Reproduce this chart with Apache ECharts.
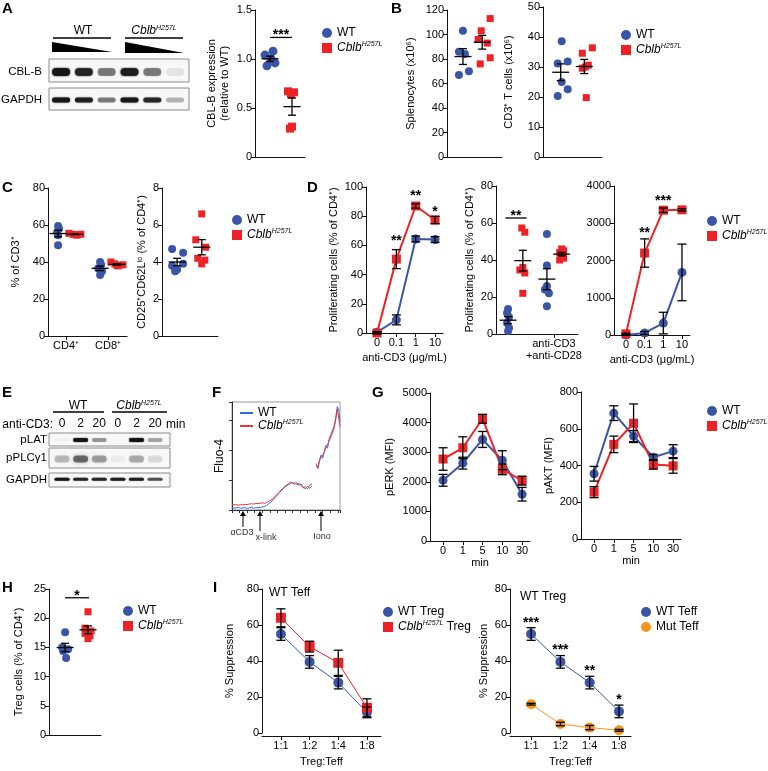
<!DOCTYPE html>
<html lang="en">
<head>
<meta charset="UTF-8">
<title>Cblb H257L</title>
<script src="https://cdn.jsdelivr.net/npm/echarts@6/dist/echarts.min.js"></script>
<style>html,body{margin:0;padding:0;background:#fff}#main{width:768px;height:771px}</style>
</head>
<body>
<div id="main"></div>
<script>
// ---- data ----
// A
var aWT = [1.08, 1.04, 1.0, 0.96, 0.93];
var aMut = [0.67, 0.66, 0.64, 0.31, 0.29];
var aBlotCBLB = [0.95, 0.8, 0.45, 0.85, 0.45, 0.08];
var aBlotGAPDH = [0.95, 0.85, 0.45, 0.9, 0.8, 0.25];
// B
var bSplenoWT = [103, 86, 84, 70, 67];
var bSplenoMut = [113, 103, 96, 93, 81, 76];
var bCD3WT = [38.6, 31.2, 31.8, 25, 22.6, 20.3];
var bCD3Mut = [34.6, 36.4, 30.6, 29.6, 30, 19.8];
// C
var cCats = ['CD4⁺', 'CD8⁺'];
var cCD4WT = [59.5, 58, 56, 54.5, 49];
var cCD4Mut = [55.5, 55, 54.5, 55, 54.8];
var cCD8WT = [40, 38.5, 36.5, 35, 33];
var cCD8Mut = [40, 39, 38, 38.5, 38];
var cTregWT = [4.7, 4.5, 3.9, 3.8, 3.6, 3.5];
var cTregMut = [6.6, 5.2, 4.8, 4.2, 4.1, 3.9];
// D
var dDose = ['0', '0.1', '1', '10'];
var dPropWT = [0.5, 9, 64.4, 64];
var dPropWTErr = [0.5, 3.4, 2, 2];
var dPropMut = [0, 50.6, 87, 77.4];
var dPropMutErr = [0.8, 6.5, 1.5, 2.5];
var dStim = ['anti-CD3', 'anti-CD3\n+anti-CD28'];
var dCD3WT = [13.5, 11.4, 9.2, 5.9, 3.2, 1.6];
var dCD3Mut = [57.3, 55, 36, 34.6, 33, 22];
var dCD28WT = [54, 37, 26, 24, 15, 22];
var dCD28Mut = [46, 45, 44, 43, 41, 40];
var dCountWT = [0, 54, 320, 1680];
var dCountWTErr = [10, 40, 290, 760];
var dCountMut = [30, 2200, 3350, 3360];
var dCountMutErr = [20, 380, 60, 30];
// E
var eLanes = ['0', '2', '20', '0', '2', '20'];
var ePLAT = [0.03, 0.95, 0.35, 0.0, 1.0, 0.3];
var ePLCG1 = [0.25, 0.55, 0.35, 0.05, 0.3, 0.12];
var eGAPDH = [0.9, 0.8, 0.8, 0.85, 0.85, 0.6];
// F (Fluo-4 trace, arbitrary units)
var fTime = [0,2,4,6,8,10,12,14,16,18,20,22,24,26,28,30,32,34,36,38,40,42,44,46,48,50,52,54,56,58,60,62,64,66,68,70,72,74,76,78,79.5,81,82.5,84,85.5,87,88.5,90,91.5,93,94.5,96,97.5,99,100];
var fWT = [0.8,0.6,0.7,0.9,0.6,0.7,0.8,0.5,0.7,0.9,0.6,0.8,0.7,0.9,1.0,1.2,1.5,2.0,2.6,3.4,4.2,5.0,5.8,6.6,7.3,8.0,8.4,8.9,9.2,8.6,9.1,8.2,8.7,7.6,7.0,7.9,7.2,8.0,null,15.5,14.2,16.8,18.3,17.2,19.8,21.5,20.6,23.8,25.2,24.6,27.9,30.8,34.5,33.1,29.4];
var fMut = [1.9,1.7,1.8,1.6,1.8,1.7,1.9,1.8,2.0,2.1,2.0,2.2,2.1,2.3,2.4,2.2,2.5,2.8,3.3,3.9,4.6,5.3,6.0,6.9,7.5,8.2,8.6,9.3,8.8,9.2,8.5,8.9,8.1,7.4,7.8,7.1,8.3,8.6,null,15.0,13.8,16.2,17.6,18.0,19.2,20.8,21.4,23.0,24.4,25.6,27.2,30.0,33.6,34.2,27.8];
// G
var gTimes = ['0', '1', '5', '10', '30'];
var gErkWT = [2050, 2630, 3430, 2730, 1580];
var gErkWTErr = [200, 200, 270, 320, 230];
var gErkMut = [2770, 3150, 4130, 2420, 2040];
var gErkMutErr = [380, 370, 150, 180, 150];
var gAktWT = [355, 685, 560, 445, 478];
var gAktWTErr = [40, 40, 30, 15, 35];
var gAktMut = [255, 515, 630, 405, 398];
var gAktMutErr = [30, 45, 105, 25, 40];
// H
var hWT = [17.6, 15.0, 14.7, 14.4, 13.2];
var hMut = [21.1, 18.3, 17.8, 17.4, 17.0, 16.5];
// I
var iRatios = ['1:1', '1:2', '1:4', '1:8'];
var iWTTreg = [55, 39.5, 28, 11.5];
var iWTTregErr = [3.5, 3.5, 3.5, 3];
var iMutTreg = [64, 48, 39, 14];
var iMutTregErr = [5, 3, 7, 5];
var iWTTeff = [55, 39.5, 28, 12];
var iWTTeffErr = [3.5, 3.5, 3.5, 3.5];
var iMutTeff = [16, 5, 3, 1.5];
var iMutTeffErr = [0.5, 1, 1.2, 0.5];

// ---- styles ----
var FONT = 'Liberation Sans, Arial, sans-serif';
var BLUE = '#3b55a6', RED = '#ec2227', ORANGE = '#f7941d';
var F_BLUE = '#2f6fdc', F_RED = '#ef3434';
var RICH = {
	i: {fontStyle: 'italic', fontSize: 12, fontFamily: FONT, color: '#000'},
	s: {fontStyle: 'italic', fontSize: 7, fontFamily: FONT, color: '#000', verticalAlign: 'top'},
	n: {fontSize: 12, fontFamily: FONT, color: '#000'}
};
var MUT = '{i|Cblb}{s|H257L}';
var LEG = {'WT': 'WT', 'Mut': MUT, 'WT trace': 'WT', 'Mut trace': MUT,
	'WT Treg': 'WT Treg', 'Mut Treg': MUT + '{n| Treg}', 'WT Teff': 'WT Teff', 'Mut Teff': 'Mut Teff'};

var grids = [], xAxes = [], yAxes = [], series = [], legends = [], graphics = [];

function stat(a){
	var n = a.length, m = 0, ss = 0;
	a.forEach(function(v){ m += v; });
	m = m / n;
	a.forEach(function(v){ ss += (v - m) * (v - m); });
	return [m, Math.sqrt(ss / (n - 1)) / Math.sqrt(n)];
}

// plain plot area: value axes, optional custom category ticks on x
function panel(o){
	var i = grids.length;
	var lab = {fontSize: 11, color: '#000', fontFamily: FONT};
	grids.push({left: o.l, top: o.t, width: o.w, height: o.h, show: false});
	xAxes.push({
		gridIndex: i, type: 'value', min: o.x0, max: o.x1, offset: o.xOff || 0,
		axisLine: {show: true, onZero: false, lineStyle: {color: '#111', width: 1}},
		axisTick: {show: !!o.xt, customValues: o.xt, length: 4, lineStyle: {color: '#111'}},
		axisLabel: {show: !!o.xt, customValues: o.xt, margin: 4, fontSize: 11, color: '#000', fontFamily: FONT, lineHeight: 12,
			formatter: function(v){ return o.xl ? o.xl[Math.round(v)] : ''; }},
		splitLine: {show: false},
		name: o.xName || '', nameLocation: 'middle', nameGap: o.xGap || 18, nameTextStyle: lab
	});
	yAxes.push({
		gridIndex: i, type: 'value', min: o.y0, max: o.y1, interval: o.yi,
		axisLine: {show: true, onZero: false, lineStyle: {color: '#111', width: 1}},
		axisTick: {show: true, length: 4, lineStyle: {color: '#111'}},
		axisLabel: {margin: 3, fontSize: 11, color: '#000', fontFamily: FONT,
			formatter: o.yf || function(v){ return String(v); }},
		splitLine: {show: false},
		name: o.yName || '', nameLocation: 'middle', nameRotate: 90, nameGap: o.yGap || 26,
		nameTextStyle: {fontSize: 11, color: '#000', fontFamily: FONT, lineHeight: 13}
	});
	return i;
}

function errBars(gi, pts, opt){
	series.push({type: 'custom', xAxisIndex: gi, yAxisIndex: gi, silent: true, z: 5, data: pts,
		renderItem: function(p, api){
			var x = api.value(0), m = api.value(1), s = api.value(2);
			var c = api.coord([x, m]), t = api.coord([x, m + s]), b = api.coord([x, m - s]);
			var st = {stroke: opt.color || '#000', lineWidth: opt.lw || 1.3};
			var ch = [
				{type: 'line', shape: {x1: c[0], y1: t[1], x2: c[0], y2: b[1]}, style: st},
				{type: 'line', shape: {x1: c[0] - opt.cap / 2, y1: t[1], x2: c[0] + opt.cap / 2, y2: t[1]}, style: st},
				{type: 'line', shape: {x1: c[0] - opt.cap / 2, y1: b[1], x2: c[0] + opt.cap / 2, y2: b[1]}, style: st}
			];
			if (opt.mean) ch.push({type: 'line', shape: {x1: c[0] - opt.mean / 2, y1: c[1], x2: c[0] + opt.mean / 2, y2: c[1]}, style: st});
			return {type: 'group', children: ch};
		}});
}

// dot plot group: points (with pixel jitter) + mean +/- SEM
function dotGroup(gi, vals, x, who, size, jit){
	var wt = who === 'WT', sz = size || 9;
	jit = jit || [0];
	series.push({type: 'scatter', name: who, xAxisIndex: gi, yAxisIndex: gi, z: 2,
		symbol: wt ? 'circle' : 'rect', symbolSize: wt ? sz : sz - 1,
		itemStyle: {color: wt ? BLUE : RED, opacity: 1},
		data: vals.map(function(v, k){ return {value: [x, v], symbolOffset: [jit[k % jit.length], 0]}; })});
	var st = stat(vals);
	errBars(gi, [[x, st[0], st[1]]], {cap: 8, mean: 17});
}

// connected means with SEM
function lineGroup(gi, name, ys, es, color, sym, lw, size){
	series.push({type: 'line', name: name, xAxisIndex: gi, yAxisIndex: gi, z: 2,
		data: ys.map(function(v, k){ return [k, v]; }),
		symbol: sym, symbolSize: size || 9, lineStyle: {color: color, width: lw}, itemStyle: {color: color}});
	errBars(gi, ys.map(function(v, k){ return [k, v, es[k]]; }), {cap: 9});
}

// significance stars (optionally with a bar)
function sig(gi, items){
	series.push({type: 'custom', xAxisIndex: gi, yAxisIndex: gi, silent: true, z: 6,
		data: items.map(function(it){ return [it[0], it[2]]; }),
		renderItem: function(p, api){
			var it = items[p.dataIndex];
			var a = api.coord([it[0], it[2]]), b = api.coord([it[1], it[2]]);
			var bar = it[0] !== it[1], ch = [];
			if (bar) ch.push({type: 'line', shape: {x1: a[0], y1: a[1], x2: b[0], y2: b[1]}, style: {stroke: '#000', lineWidth: 1.3}});
			ch.push({type: 'text', x: (a[0] + b[0]) / 2, y: a[1] + (bar ? -2 : 3),
				style: {text: it[3], align: 'center', verticalAlign: 'middle', fontSize: 14, fontWeight: 'bold', fontFamily: FONT, fill: '#000'}});
			return {type: 'group', children: ch};
		}});
}

// western blot strip
function blotPanel(l, t, w, h, x0, x1, labels){
	var i = grids.length;
	grids.push({left: l, top: t, width: w, height: h, show: true, backgroundColor: '#f8f8f8', borderColor: '#8a8a8a', borderWidth: 1});
	xAxes.push({gridIndex: i, type: 'value', min: x0, max: x1, position: 'top', show: !!labels,
		axisLine: {show: false}, axisTick: {show: false}, splitLine: {show: false},
		axisLabel: {show: !!labels, customValues: labels ? labels.map(function(_, k){ return k; }) : undefined,
			margin: 3, fontSize: 12, color: '#000', fontFamily: FONT,
			formatter: function(v){ return labels ? labels[Math.round(v)] : ''; }}});
	yAxes.push({gridIndex: i, type: 'value', min: 0, max: 1, show: false});
	return i;
}
function blot(gi, vals, yFrac, w, h, blur){
	series.push({type: 'custom', xAxisIndex: gi, yAxisIndex: gi, silent: true, z: 2,
		data: vals.map(function(v, k){ return [k, yFrac, v]; }),
		renderItem: function(p, api){
			var c = api.coord([api.value(0), api.value(1)]), a = api.value(2);
			var col = 'rgba(20,20,20,' + a + ')';
			return {type: 'rect', shape: {x: c[0] - w / 2, y: c[1] - h / 2, width: w, height: h, r: h / 2},
				style: {fill: col, shadowBlur: blur, shadowColor: col}};
		}});
}

function addLegend(left, top, names, icons, opt){
	opt = opt || {};
	legends.push({left: left, top: top, orient: 'vertical', padding: 0, itemGap: opt.gap || 1,
		itemWidth: opt.w || 10, itemHeight: opt.h || 10, selectedMode: false,
		data: names.map(function(n, k){ return {name: n, icon: icons[k]}; }),
		formatter: function(n){ return LEG[n]; },
		textStyle: {fontFamily: FONT, fontSize: 12, color: '#000', lineHeight: 14, rich: RICH}});
}

function txt(x, y, s, o){
	o = o || {};
	graphics.push({type: 'text', x: x, y: y, silent: true, style: {text: s, rich: RICH,
		font: (o.bold ? 'bold ' : '') + (o.size || 12) + 'px ' + FONT, fill: o.color || '#000',
		align: o.align || 'left', verticalAlign: o.va || 'middle'}});
}
function seg(x1, y1, x2, y2, w){
	graphics.push({type: 'line', silent: true, shape: {x1: x1, y1: y1, x2: x2, y2: y2}, style: {stroke: '#000', lineWidth: w || 1.5}});
}
function arrowUp(x, y1, y2){
	seg(x, y1, x, y2 + 3, 1);
	graphics.push({type: 'polygon', silent: true, shape: {points: [[x - 3, y2 + 5], [x + 3, y2 + 5], [x, y2]]}, style: {fill: '#000'}});
}

// ---- A ----
txt(2, 9, 'A', {bold: true, size: 15});
txt(83, 31, 'WT', {align: 'center'});
txt(154, 31, MUT, {align: 'center'});
seg(53, 38, 111, 38); seg(125, 38, 183, 38);
graphics.push({type: 'polygon', silent: true, shape: {points: [[52, 42], [52, 52], [112, 52]]}, style: {fill: '#000'}});
graphics.push({type: 'polygon', silent: true, shape: {points: [[125, 42], [125, 53], [184, 53]]}, style: {fill: '#000'}});
txt(42, 72, 'CBL-B', {align: 'right', size: 11.5});
txt(42, 100, 'GAPDH', {align: 'right', size: 11.5});
var gA1 = blotPanel(49, 59, 140, 23, -0.53, 5.61);
blot(gA1, aBlotCBLB, 0.43, 18, 8, 2);
var gA2 = blotPanel(49, 88, 140, 22, -0.53, 5.61);
blot(gA2, aBlotGAPDH, 0.45, 18, 5, 1.5);

var gA = panel({l: 255, t: 10, w: 50, h: 147, x0: 0, x1: 1, y0: 0, y1: 1.5, yi: 0.5,
	yf: function(v){ return v === 0 ? '0' : v.toFixed(1); },
	yName: 'CBL-B expression\n(relative to WT)', yGap: 24});
dotGroup(gA, aWT, 0.3, 'WT', 9, [3, -5, 1, 5, -3]);
dotGroup(gA, aMut, 0.74, 'Mut', 9, [-4, 2, -1, 0, -2]);
sig(gA, [[0.3, 0.74, 1.22, '***']]);
addLegend(322, 26, ['WT', 'Mut'], ['circle', 'rect']);

// ---- B ----
txt(391, 9, 'B', {bold: true, size: 15});
var gB1 = panel({l: 447, t: 10, w: 55, h: 147, x0: 0, x1: 1, y0: 0, y1: 120, yi: 20, yName: 'Splenocytes (x10⁶)', yGap: 30});
dotGroup(gB1, bSplenoWT, 0.29, 'WT', 8, [0, -4, 2, 6, -4]);
dotGroup(gB1, bSplenoMut, 0.64, 'Mut', 8, [8, -1, -4, 5, 8, -2]);
var gB2 = panel({l: 543, t: 7, w: 59, h: 150, x0: 0, x1: 1, y0: 0, y1: 50, yi: 10, yName: 'CD3⁺ T cells (x10⁶)', yGap: 28});
dotGroup(gB2, bCD3WT, 0.3, 'WT', 8, [1, -3, 7, 1, 7, -3]);
dotGroup(gB2, bCD3Mut, 0.7, 'Mut', 8, [-2, 8, 4, -2, 1, 2]);
addLegend(621, 28, ['WT', 'Mut'], ['circle', 'rect'], {gap: 0});

// ---- C ----
txt(2, 188, 'C', {bold: true, size: 15});
var gC1 = panel({l: 48, t: 188, w: 79, h: 148, x0: -0.43, x1: 1.45, xt: [0, 1], xl: cCats,
	y0: 0, y1: 80, yi: 20, yName: '% of CD3⁺', yGap: 26});
dotGroup(gC1, cCD4WT, -0.19, 'WT', 8, [0, 1, -1, 0, 0]);
dotGroup(gC1, cCD4Mut, 0.21, 'Mut', 8, [-6, -2, 2, 6, 0]);
dotGroup(gC1, cCD8WT, 0.81, 'WT', 8, [0, 1, -2, 2, 0]);
dotGroup(gC1, cCD8Mut, 1.21, 'Mut', 8, [-6, -2, 2, 6, 0]);
var gC2 = panel({l: 162, t: 188, w: 56, h: 148, x0: 0, x1: 1, y0: 0, y1: 8, yi: 2,
	yName: 'CD25⁺CD62Lˡᵒ (% of CD4⁺)', yGap: 14});
dotGroup(gC2, cTregWT, 0.27, 'WT', 8, [-5, 6, 6, -5, 0, -2]);
dotGroup(gC2, cTregMut, 0.71, 'Mut', 8, [0, -6, 4, -4, 3, 0]);
addLegend(232, 213, ['WT', 'Mut'], ['circle', 'rect'], {gap: 0});

// ---- D ----
txt(307, 188, 'D', {bold: true, size: 15});
var gD1 = panel({l: 366, t: 187, w: 77, h: 146, x0: -0.57, x1: 3.41, xt: [0, 1, 2, 3], xl: dDose,
	y0: 0, y1: 100, yi: 20, yName: 'Proliferating cells (% of CD4⁺)', yGap: 26, xName: 'anti-CD3 (μg/mL)', xGap: 19});
lineGroup(gD1, 'WT', dPropWT, dPropWTErr, BLUE, 'circle', 2);
lineGroup(gD1, 'Mut', dPropMut, dPropMutErr, RED, 'rect', 2);
sig(gD1, [[1, 1, 65, '**'], [2, 2, 96, '**'], [3, 3, 84.5, '*']]);

var gD2 = panel({l: 496, t: 186, w: 82, h: 148, x0: -0.49, x1: 1.62, xt: [0, 1], xl: dStim,
	y0: 0, y1: 80, yi: 20, yName: 'Proliferating cells (% of CD4⁺)', yGap: 16});
dotGroup(gD2, dCD3WT, -0.18, 'WT', 8, [0, -1, 1, -1, 1, 0]);
dotGroup(gD2, dCD3Mut, 0.2, 'Mut', 8, [-1, 2, 0, -3, 2, 0]);
dotGroup(gD2, dCD28WT, 0.82, 'WT', 8, [0, 0, 0, -2, 0, 2]);
dotGroup(gD2, dCD28Mut, 1.2, 'Mut', 8, [0, 2, -2, 0, 2, -2]);
sig(gD2, [[-0.25, 0.3, 62.7, '**']]);

var gD3 = panel({l: 614, t: 186, w: 76, h: 149, x0: -0.64, x1: 3.43, xt: [0, 1, 2, 3], xl: dDose,
	y0: 0, y1: 4000, yi: 1000, xName: 'anti-CD3 (μg/mL)', xGap: 19});
lineGroup(gD3, 'WT', dCountWT, dCountWTErr, BLUE, 'circle', 2);
lineGroup(gD3, 'Mut', dCountMut, dCountMutErr, RED, 'rect', 2);
sig(gD3, [[1, 1, 2810, '**'], [2, 2, 3680, '***']]);
addLegend(707, 214, ['WT', 'Mut'], ['circle', 'rect'], {gap: 0});

// ---- E ----
txt(2, 393, 'E', {bold: true, size: 15});
txt(78, 406, 'WT', {align: 'center'});
txt(139, 406, MUT, {align: 'center'});
seg(53, 412, 104, 412); seg(112, 412, 167, 412);
txt(53, 425, 'anti-CD3:', {align: 'right'});
txt(166, 425, 'min');
txt(47, 440, 'pLAT', {align: 'right', size: 11.5});
txt(47, 458, 'pPLCγ1', {align: 'right', size: 11.5});
txt(47, 480, 'GAPDH', {align: 'right', size: 11.5});
var gE1 = blotPanel(49, 433, 121, 13, -0.7, 5.8, eLanes);
blot(gE1, ePLAT, 0.46, 15, 4, 1.5);
var gE2 = blotPanel(49, 448, 121, 20, -0.7, 5.8);
blot(gE2, ePLCG1, 0.45, 15, 7, 4);
var gE3 = blotPanel(49, 473, 121, 14, -0.7, 5.8);
blot(gE3, eGAPDH, 0.55, 15, 3, 1);

// ---- F ----
txt(212, 393, 'F', {bold: true, size: 15});
var gF = grids.length;
grids.push({left: 232, top: 402, width: 108, height: 108, show: true, borderColor: '#9a9a9a', borderWidth: 1});
xAxes.push({gridIndex: gF, type: 'value', min: 0, max: 100, interval: 7,
	axisLine: {onZero: false, lineStyle: {color: '#333'}}, axisTick: {length: 3, lineStyle: {color: '#333'}},
	axisLabel: {show: false}, splitLine: {show: false}});
yAxes.push({gridIndex: gF, type: 'value', min: 0, max: 36, interval: 10,
	axisLine: {onZero: false, lineStyle: {color: '#333'}}, axisTick: {length: 3, lineStyle: {color: '#333'}},
	axisLabel: {show: false}, splitLine: {show: false},
	name: 'Fluo-4', nameLocation: 'middle', nameRotate: 90, nameGap: 6,
	nameTextStyle: {fontSize: 12, color: '#000', fontFamily: FONT}});
series.push({type: 'line', name: 'WT trace', xAxisIndex: gF, yAxisIndex: gF, z: 3, symbol: 'none', connectNulls: false,
	data: fTime.map(function(t, k){ return [t, fWT[k]]; }), lineStyle: {color: F_BLUE, width: 1}, itemStyle: {color: F_BLUE}});
series.push({type: 'line', name: 'Mut trace', xAxisIndex: gF, yAxisIndex: gF, z: 3, symbol: 'none', connectNulls: false,
	data: fTime.map(function(t, k){ return [t, fMut[k]]; }), lineStyle: {color: F_RED, width: 1}, itemStyle: {color: F_RED}});
addLegend(240, 406, ['WT trace', 'Mut trace'], ['rect', 'rect'], {w: 13, h: 2, gap: -1});
arrowUp(243, 527, 511); txt(242, 533, 'αCD3', {size: 9, align: 'center', color: '#333'});
arrowUp(260, 531, 511); txt(266, 538, 'x-link', {size: 9, align: 'center', color: '#333'});
arrowUp(321, 531, 511); txt(322, 537, 'Iono', {size: 9, align: 'center', color: '#333'});

// ---- G ----
txt(372, 393, 'G', {bold: true, size: 15});
var gG1 = panel({l: 430, t: 393, w: 100, h: 148, x0: -0.66, x1: 4.4, xt: [0, 1, 2, 3, 4], xl: gTimes,
	y0: 0, y1: 5000, yi: 1000, yName: 'pERK (MFI)', yGap: 34, xName: 'min', xGap: 16});
lineGroup(gG1, 'WT', gErkWT, gErkWTErr, BLUE, 'circle', 2);
lineGroup(gG1, 'Mut', gErkMut, gErkMutErr, RED, 'rect', 2);
var gG2 = panel({l: 581, t: 392, w: 100, h: 147, x0: -0.66, x1: 4.4, xt: [0, 1, 2, 3, 4], xl: gTimes,
	y0: 0, y1: 800, yi: 200, yName: 'pAKT (MFI)', yGap: 24, xName: 'min', xGap: 16});
lineGroup(gG2, 'WT', gAktWT, gAktWTErr, BLUE, 'circle', 2);
lineGroup(gG2, 'Mut', gAktMut, gAktMutErr, RED, 'rect', 2);
addLegend(707, 404, ['WT', 'Mut'], ['circle', 'rect'], {gap: 1});

// ---- H ----
txt(2, 588, 'H', {bold: true, size: 15});
var gH = panel({l: 49, t: 589, w: 52, h: 146, x0: 0, x1: 1, y0: 0, y1: 25, yi: 5,
	yName: 'Treg cells (% of CD4⁺)', yGap: 24});
dotGroup(gH, hWT, 0.31, 'WT', 8, [0, -3, 3, -2, 1]);
dotGroup(gH, hMut, 0.75, 'Mut', 8, [0, -3, 3, -3, 2, 0]);
sig(gH, [[0.31, 0.77, 23.5, '*']]);
addLegend(123, 604, ['WT', 'Mut'], ['circle', 'rect'], {gap: 0});

// ---- I ----
txt(213, 588, 'I', {bold: true, size: 15});
var gI1 = panel({l: 262, t: 589, w: 119, h: 144, x0: -0.66, x1: 3.49, xt: [0, 1, 2, 3], xl: iRatios, xOff: 3,
	y0: 0, y1: 80, yi: 20, yName: '% Suppression', yGap: 26, xName: 'Treg:Teff', xGap: 20});
lineGroup(gI1, 'WT Treg', iWTTreg, iWTTregErr, BLUE, 'circle', 1, 10);
lineGroup(gI1, 'Mut Treg', iMutTreg, iMutTregErr, RED, 'rect', 1, 10);
txt(269, 593, 'WT Teff');
addLegend(383, 605, ['WT Treg', 'Mut Treg'], ['circle', 'rect'], {gap: 0});

var gI2 = panel({l: 510, t: 589, w: 121, h: 144, x0: -0.72, x1: 3.41, xt: [0, 1, 2, 3], xl: iRatios, xOff: 3,
	y0: 0, y1: 80, yi: 20, yName: '% Suppression', yGap: 20, xName: 'Treg:Teff', xGap: 20});
lineGroup(gI2, 'WT Teff', iWTTeff, iWTTeffErr, BLUE, 'circle', 1, 10);
lineGroup(gI2, 'Mut Teff', iMutTeff, iMutTeffErr, ORANGE, 'circle', 1, 10);
sig(gI2, [[0, 0, 62.8, '***'], [1, 1, 47.8, '***'], [2, 2, 36, '**'], [3, 3, 20, '*']]);
txt(520, 597, 'WT Treg');
addLegend(641, 605, ['WT Teff', 'Mut Teff'], ['circle', 'circle'], {gap: 0});

var chart = echarts.init(document.getElementById('main'), null, {renderer: 'canvas', width: 768, height: 771});
chart.setOption({
	animation: false,
	backgroundColor: '#fff',
	textStyle: {fontFamily: FONT},
	grid: grids, xAxis: xAxes, yAxis: yAxes,
	legend: legends, series: series, graphic: graphics
});
</script>
</body>
</html>
